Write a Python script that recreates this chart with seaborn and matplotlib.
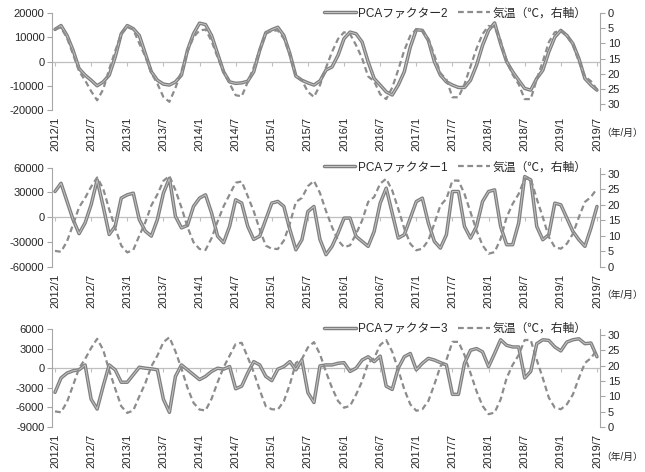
import numpy as np
import pandas as pd
import matplotlib
matplotlib.use('Agg')
import matplotlib.pyplot as plt
import matplotlib.patheffects as pe
import seaborn as sns

sns.set_style('white')
plt.rcParams['font.family'] = ['Liberation Sans', 'Noto Sans CJK JP']
plt.rcParams['axes.unicode_minus'] = False

# months 2012/1 .. 2019/7
months = pd.period_range('2012-01', '2019-07', freq='M')
month_no = np.arange(len(months))
tick_pos = month_no[::6]
tick_labels = [f'{p.year}/{p.month}' for p in months[::6]]

# temperature (C, right axis)
temperature = [5.1, 4.8, 8.2, 13.6, 19.2, 22.2, 25.8, 28.8, 25.2, 18.5, 12.5, 6.8,
               4.6, 5.4, 10.0, 14.3, 19.8, 23.3, 27.7, 29.3, 24.7, 19.1, 12.8, 7.9,
               5.7, 5.4, 9.2, 14.6, 19.5, 23.3, 27.1, 27.5, 22.8, 17.9, 12.0, 6.8,
               5.8, 5.7, 8.4, 13.9, 20.9, 22.2, 26.0, 27.7, 23.8, 18.0, 12.8, 8.5,
               6.3, 6.9, 10.6, 14.9, 20.9, 22.5, 26.8, 28.4, 24.6, 18.7, 12.3, 7.4,
               5.3, 5.8, 8.5, 13.9, 19.8, 21.9, 27.8, 27.8, 23.5, 17.6, 11.7, 6.9,
               4.2, 4.7, 9.0, 16.0, 20.3, 23.5, 28.4, 28.4, 21.9, 16.0, 9.6, 6.3,
               5.8, 7.4, 10.6, 16.0, 20.9, 22.5, 25.2]

# PCA factor 2 (top panel)
factor2 = [13300, 14900, 10800, 4700, -2900, -5600, -7700, -10000, -8400, -5600, 1900, 11500,
           14900, 13600, 10800, 3300, -4200, -7700, -9300, -9700, -8400, -5600, 4700, 11500,
           15900, 15300, 10800, 3300, -4200, -8400, -9000, -8800, -8100, -4200, 4700, 11900,
           13200, 14200, 10800, 3300, -6000, -7700, -8800, -9700, -8000, -3500, -2200, 2600,
           9500, 12200, 11500, 8100, -100, -7000, -9700, -12500, -13800, -9700, -4200, 6000,
           13200, 12900, 8800, 0, -5600, -8400, -9700, -10700, -10700, -7700, -1500, 6700,
           12900, 16000, 7400, 0, -4200, -7700, -11100, -11800, -7000, -3600, 4000, 10100,
           12900, 10800, 7400, 1200, -7000, -9700, -11800]

# PCA factor 1 (middle panel)
factor1 = [31000, 41000, 19000, -3000, -20000, -7000, 15000, 45000, 13000, -21000, -11000, 23000,
           27000, 29000, -3000, -17000, -23000, -3000, 29000, 47000, 1000, -13000, -10000, 13000,
           23000, 27000, 5000, -23000, -31000, -11000, 21000, 17000, -11000, -27000, -23000, -3000,
           17000, 19000, 13000, -15000, -39500, -27400, 6800, 12900, -27000, -45500, -35400, -19300,
           -1200, -1200, -23400, -29400, -35400, -17300, 16900, 35000, 4800, -25400, -21300, -1200,
           18900, 23000, -7200, -29400, -37500, -21300, 31000, 31000, -11300, -25400, -11300, 18900,
           31000, 33000, -11300, -33400, -33400, -7200, 49100, 45100, -11300, -27400, -21300, 16900,
           14900, -1200, -17300, -27400, -35400, -13300, 12900]

# PCA factor 3 (bottom panel)
factor3 = [-3700, -1500, -750, -400, -250, 500, -4750, -6250, -2750, 500, -250, -2150,
           -2150, -1000, 150, 0, -100, -250, -4750, -6750, -1250, 500, -250, -1000,
           -1750, -1250, -500, 0, -150, 250, -3150, -2750, -750, 1000, 500, -1250,
           -1900, -150, 250, 1000, -250, 1250, -3750, -5250, 350, 500, 500, 750,
           850, -500, 0, 1250, 1750, 1000, 1850, -2750, -3250, 0, 1750, 2250,
           -250, 750, 1500, 1250, 850, 500, -4000, -4000, 750, 2750, 3000, 2500,
           250, 2250, 4350, 3500, 3250, 3250, -1500, -500, 3750, 4350, 4250, 3250,
           2650, 4000, 4350, 4500, 3750, 3850, 1750]

df = pd.DataFrame({'month': month_no, 'temp': temperature,
                   'f1': factor1, 'f2': factor2, 'f3': factor3})

temp_label = '気温（℃，右軸）'
axis_col = '#a6a6a6'
text_col = '#262626'

fig = plt.figure(figsize=(6.45, 4.72), dpi=100)

# (column, legend label, left limits, left step, invert right axis, axes rect, unit label y in fig px)
panels = [
    ('f2', 'PCAファクター2', (-20000, 20000), 10000, True, [0.0806, 0.767, 0.8496, 0.205], 133),
    ('f1', 'PCAファクター1', (-60000, 60000), 30000, False, [0.0806, 0.435, 0.8496, 0.210], 295),
    ('f3', 'PCAファクター3', (-9000, 6000), 3000, False, [0.0806, 0.0953, 0.8496, 0.2077], 457),
]

# double-ish line look for the factor series
hollow = [pe.Stroke(linewidth=2.5, foreground='#7f7f7f'),
          pe.Stroke(linewidth=0.7, foreground='#c4c4c4')]

for col, name, ylim, step, invert, rect, unit_y in panels:
    ax = fig.add_axes(rect)
    ax2 = ax.twinx()

    ax.axhline(0, color='#bfbfbf', lw=0.9, zorder=1)
    sns.lineplot(data=df, x='month', y=col, ax=ax, color='#7f7f7f', lw=2.5,
                 label=name, legend=False, zorder=3)
    ax.lines[1].set_path_effects(hollow)
    sns.lineplot(data=df, x='month', y='temp', ax=ax2, color='#8c8c8c', lw=1.6,
                 dashes=False, label=temp_label, legend=False)
    ax2.lines[0].set_dashes((2.6, 1.6))

    ax.set_xlim(-0.5, 90.5)
    ax.set_ylim(*ylim)
    ax.set_yticks(np.arange(ylim[0], ylim[1] + 1, step))
    if invert:
        ax2.set_ylim(32, 0)
    else:
        ax2.set_ylim(0, 32)
    ax2.set_yticks(np.arange(0, 31, 5))

    ax.set_xticks(tick_pos, tick_labels, rotation=90)
    ax.set_xlabel('')
    ax.set_ylabel('')
    ax2.set_ylabel('')

    for a in (ax, ax2):
        for s in a.spines.values():
            s.set_visible(False)
    ax.spines['left'].set_visible(True)
    ax.spines['left'].set_color(axis_col)
    ax2.spines['right'].set_visible(True)
    ax2.spines['right'].set_color(axis_col)

    ax.tick_params(axis='x', length=0, pad=5, labelsize=8, labelcolor=text_col)
    ax.tick_params(axis='y', left=True, length=3.5, width=0.8, color=axis_col,
                   pad=2, labelsize=8, labelcolor=text_col)
    ax2.tick_params(axis='y', right=True, length=3.5, width=0.8, color=axis_col,
                    pad=2, labelsize=8, labelcolor=text_col)

    # small category ticks sitting on the zero line
    zero_frac = (0 - ylim[0]) / (ylim[1] - ylim[0])
    sec = ax.secondary_xaxis(zero_frac)
    sec.set_xticks(tick_pos, [''] * len(tick_pos))
    sec.tick_params(axis='x', direction='in', length=3, width=0.8, color='#bfbfbf')
    for s in sec.spines.values():
        s.set_visible(False)

    handles = [ax.lines[1], ax2.lines[0]]
    ax2.legend(handles, [name, temp_label], loc='center right',
               bbox_to_anchor=(0.975, 1.0), ncol=2, frameon=False, fontsize=8.5,
               handlelength=2.7, handletextpad=0.2, columnspacing=0.9,
               borderaxespad=0, borderpad=0)

    fig.text(0.997, 1 - unit_y / 472, '（年/月）', fontsize=7, color=text_col,
             ha='right', va='center')

fig.savefig('out.png', dpi=100)
